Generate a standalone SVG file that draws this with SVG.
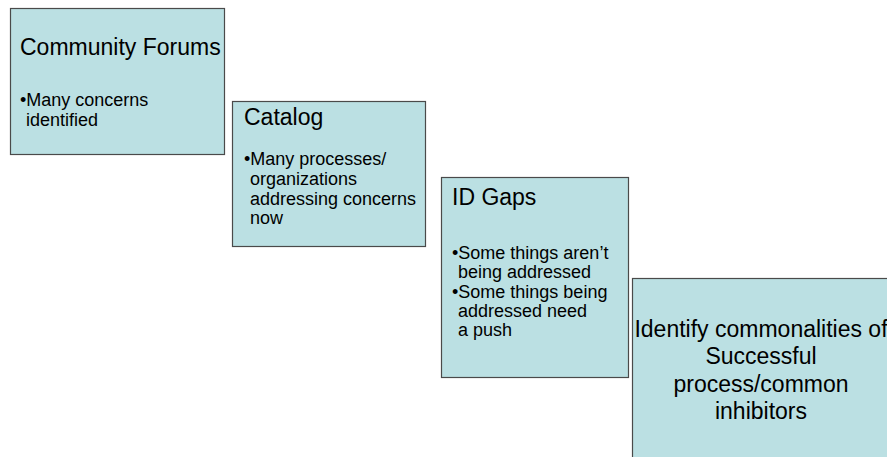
<svg xmlns="http://www.w3.org/2000/svg" width="887" height="457" viewBox="0 0 887 457">
  <style>
    .box { fill: #bbe0e3; stroke: #4a4a4a; stroke-width: 1.2; }
    .title { font-family: "Liberation Sans", Arial, sans-serif; font-size: 23px; fill: #000; }
    .body { font-family: "Liberation Sans", Arial, sans-serif; font-size: 18px; fill: #000; }
    .big { font-family: "Liberation Sans", Arial, sans-serif; font-size: 23px; fill: #000; text-anchor: middle; }
  </style>
  <rect width="887" height="457" fill="#ffffff"/>

  <g id="connectors"></g>

  <!-- Step 1 -->
  <g id="community-forums">
    <rect class="box" x="10.5" y="8.5" width="214" height="146"/>
    <text class="title" x="20" y="55">Community Forums</text>
    <text class="body" x="20" y="106">•Many concerns</text>
    <text class="body" x="26" y="126">identified</text>
  </g>

  <!-- Step 2 -->
  <g id="catalog">
    <rect class="box" x="232.5" y="101.5" width="193" height="145"/>
    <text class="title" x="244" y="125">Catalog</text>
    <text class="body" x="244" y="165">•Many processes/</text>
    <text class="body" x="250" y="185">organizations</text>
    <text class="body" x="250" y="205">addressing concerns</text>
    <text class="body" x="250" y="224">now</text>
  </g>

  <!-- Step 3 -->
  <g id="id-gaps">
    <rect class="box" x="441.5" y="177.5" width="187" height="200"/>
    <text class="title" x="452" y="205">ID Gaps</text>
    <text class="body" x="452" y="259">•Some things aren’t</text>
    <text class="body" x="458" y="278">being addressed</text>
    <text class="body" x="452" y="298">•Some things being</text>
    <text class="body" x="458" y="317">addressed need</text>
    <text class="body" x="458" y="336">a push</text>
  </g>

  <!-- Step 4 (runs off the page edge) -->
  <g id="identify-commonalities">
    <rect class="box" x="632.5" y="278.5" width="262" height="190"/>
    <text class="big" x="761" y="337">Identify commonalities of</text>
    <text class="big" x="761" y="364">Successful</text>
    <text class="big" x="761" y="392">process/common</text>
    <text class="big" x="761" y="419">inhibitors</text>
  </g>
</svg>
